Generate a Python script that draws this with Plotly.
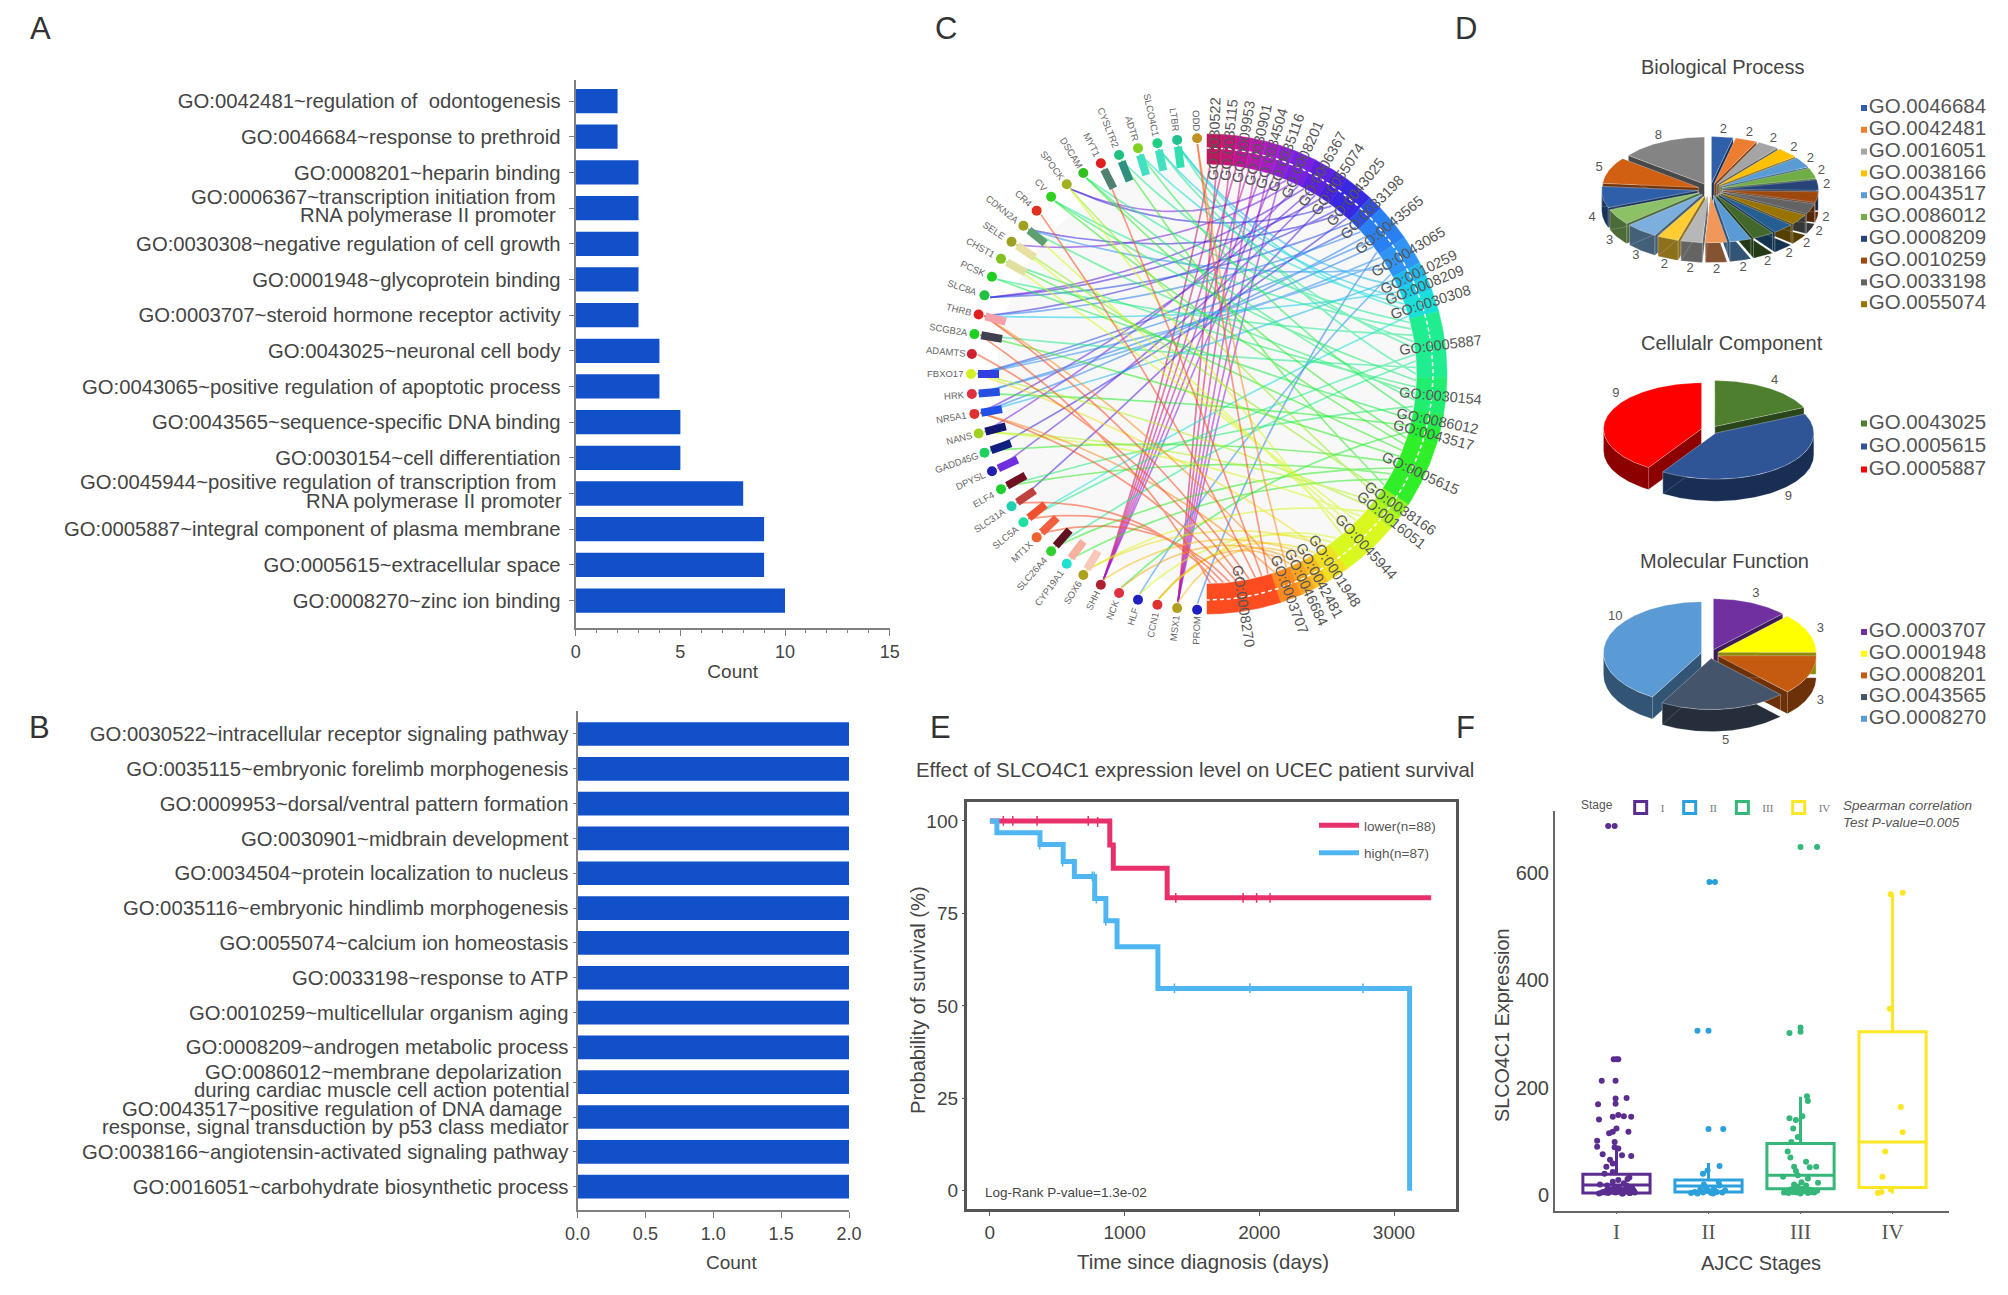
import math
import plotly.graph_objects as go

W, H = 2008, 1295
FONT = "Liberation Sans"
TXT = "#444444"

# ---------- panel A ----------
A_TERMS = ["GO:0042481~regulation of  odontogenesis", "GO:0046684~response to prethroid", "GO:0008201~heparin binding",
           "GO:0006367~transcription initiation from<br>RNA polymerase II promoter", "GO:0030308~negative regulation of cell growth",
           "GO:0001948~glycoprotein binding", "GO:0003707~steroid hormone receptor activity", "GO:0043025~neuronal cell body",
           "GO:0043065~positive regulation of apoptotic process", "GO:0043565~sequence-specific DNA binding",
           "GO:0030154~cell differentiation", "GO:0045944~positive regulation of transcription from<br>RNA polymerase II promoter",
           "GO:0005887~integral component of plasma membrane", "GO:0005615~extracellular space", "GO:0008270~zinc ion binding"]
A_COUNTS = [2, 2, 3, 3, 3, 3, 3, 4, 4, 5, 5, 8, 9, 9, 10]

# ---------- panel B ----------
B_TERMS = ["GO:0030522~intracellular receptor signaling pathway", "GO:0035115~embryonic forelimb morphogenesis",
           "GO:0009953~dorsal/ventral pattern formation", "GO:0030901~midbrain development",
           "GO:0034504~protein localization to nucleus", "GO:0035116~embryonic hindlimb morphogenesis",
           "GO:0055074~calcium ion homeostasis", "GO:0033198~response to ATP", "GO:0010259~multicellular organism aging",
           "GO:0008209~androgen metabolic process", "GO:0086012~membrane depolarization<br>during cardiac muscle cell action potential",
           "GO:0043517~positive regulation of DNA damage<br>response, signal transduction by p53 class mediator",
           "GO:0038166~angiotensin-activated signaling pathway", "GO:0016051~carbohydrate biosynthetic process"]
B_COUNTS = [2] * 14

# ---------- panel C ----------
C_GO = ["GO:0030522", "GO:0035115", "GO:0009953", "GO:0030901", "GO:0034504", "GO:0035116", "GO:0008201", "GO:0006367",
        "GO:0055074", "GO:0043025", "GO:0033198", "GO:0043565", "GO:0043065", "GO:0010259", "GO:0008209", "GO:0030308",
        "GO:0005887", "GO:0030154", "GO:0086012", "GO:0043517", "GO:0005615", "GO:0038166", "GO:0016051", "GO:0045944",
        "GO:0001948", "GO:0042481", "GO:0046684", "GO:0003707", "GO:0008270"]
C_GENES = ["PROM", "MSX1", "CCN1", "HLF", "NCK", "SHH", "SOX6", "CYP19A1", "SLC26A4", "MT1X", "SLC5A", "SLC31A", "ELF4",
           "DPYSL", "GADD45G", "NANS", "NR5A1", "HRK", "FBXO17", "ADAMTS", "SCGB2A", "THRB", "SLC8A", "PCSK", "CHST1",
           "SELE", "CDKN2A", "CR4", "CV", "SPOCK", "DSCAM", "MYT1", "CYSLTR2", "ADTR", "SLCO4C1", "LTBR", "ODD"]
# gene indices linked to each GO term; the list length is the term's count
C_LINKS = [[5, 1], [5, 1], [5, 1], [5, 1], [5, 1], [5, 1],
           [29, 25, 15], [22, 16, 13], [22, 11], [29, 21, 26, 14], [22, 18], [21, 16, 18, 17, 0],
           [17, 18, 26, 3], [16, 35], [21, 34], [33, 35, 10],
           [30, 28, 23, 32, 34, 10, 8, 20, 35], [28, 24, 26, 30, 12], [33, 23], [17, 4],
           [30, 28, 24, 20, 14, 8, 12, 7, 32], [25, 29], [15, 18],
           [6, 15, 24, 25, 26, 29, 2, 3], [6, 18, 2], [5, 1], [4, 2], [36, 21, 16],
           [36, 31, 27, 21, 19, 16, 9, 10, 11, 20]]
C_GO_COLORS = ["#c4145e", "#c81478", "#c01498", "#b818b0", "#a81cc8", "#9020d8", "#7a20e0", "#6020e0", "#4a20e0", "#3828e0",
               "#2a50e8", "#2a80f0", "#3094f4", "#20b8ee", "#18d0e8", "#18e0d8", "#20ec90", "#20ee70", "#20ee50", "#20f030",
               "#30ee28", "#90f020", "#b0f420", "#d8f820", "#f0e020", "#f8c020", "#f8a820", "#fc8c20", "#fc4c20"]
C_DOT_COLORS = ["#2020c0", "#b0a020", "#e03030", "#2020c0", "#e03040", "#b02030", "#b0a020", "#20e0d0", "#30d030", "#f06030",
                "#20e0a0", "#20d0b0", "#20d030", "#2020b0", "#20d060", "#a0d020", "#e03030", "#e03040", "#d0f020", "#d02030",
                "#20d020", "#e02020", "#20c040", "#20d020", "#80c020", "#a0a020", "#a0a020", "#e03020", "#30d020", "#a0b020",
                "#30c020", "#e02020", "#20c080", "#80d020", "#20d080", "#20c090", "#c09020"]
C_STUB_COLORS = {9: "#f06040", 8: "#601020", 7: "#f8b0a0", 6: "#f8c8b8", 10: "#f05030", 11: "#c04040", 12: "#701020",
                 13: "#7030e0", 14: "#102080", 15: "#101870", 16: "#2050e8", 17: "#2850e0", 18: "#3040e0", 20: "#404050",
                 21: "#f8a0a8", 25: "#e8e0a0", 24: "#e0e0a0", 26: "#60a070", 31: "#508070", 32: "#309080", 33: "#40e0c0",
                 34: "#40e0c0", 35: "#30e0b0"}

# ---------- panel D ----------
BP_VALUES = [2] * 16 + [3, 3, 4, 5, 8]
BP_COLORS = ["#2f5fa8", "#ed7d31", "#a5a5a5", "#ffc000", "#5b9bd5", "#70ad47", "#264478", "#9e480e", "#636363", "#997300",
             "#255e91", "#43682b", "#5b9bd5", "#f1975a", "#b7b7b7", "#ffcd33", "#7cafdd", "#8cc168", "#2f5fa8", "#d26012", "#848484"]
BP_LEGEND = ["GO.0046684", "GO.0042481", "GO.0016051", "GO.0038166", "GO.0043517", "GO.0086012", "GO.0008209", "GO.0010259", "GO.0033198", "GO.0055074"]
BP_LEG_COL = ["#2f5fa8", "#ed7d31", "#a5a5a5", "#ffc000", "#5b9bd5", "#70ad47", "#264478", "#9e480e", "#636363", "#997300"]
CC_VALUES = [4, 9, 9]
CC_COLORS = ["#4e7f2f", "#2f5597", "#ff0000"]
CC_LEGEND = ["GO.0043025", "GO.0005615", "GO.0005887"]
MF_VALUES = [3, 3, 3, 5, 10]
MF_COLORS = ["#7030a0", "#ffff00", "#c55a11", "#44546a", "#5b9bd5"]
MF_LEGEND = ["GO.0003707", "GO.0001948", "GO.0008201", "GO.0043565", "GO.0008270"]

# ---------- panel E ----------
KM_LOW_T = [0, 890, 916, 1316, 3276]
KM_LOW_S = [100, 93.5, 87.2, 79.2, 79.2]
KM_HIGH_T = [0, 52, 372, 544, 627, 778, 861, 944, 1247, 3116]
KM_HIGH_S = [100, 96.8, 93.6, 89, 85, 79, 73, 66, 54.7, 0]
CENS_LOW_T = [100, 170, 350, 730, 800, 1380, 1880, 1980, 2080]
CENS_LOW_S = [100, 100, 100, 100, 99.7, 79.2, 79.2, 79.2, 79.2]
CENS_HIGH_T = [370, 540, 760, 775, 790, 860, 1370, 1930, 2770]
CENS_HIGH_S = [93.6, 89, 85, 85, 79, 73, 54.7, 54.8, 54.7]

# ---------- panel F ----------
STAGES = ["I", "II", "III", "IV"]
STAGE_COLORS = ["#5c2d91", "#2aa0dc", "#35b779", "#fde725"]
BOX_Q1 = [4, 6, 12, 14]
BOX_MED = [19, 17, 37, 99]
BOX_Q3 = [39, 28, 96, 304]
BOX_LO = [1, 2, 2, 3]
BOX_HI = [90, 60, 183, 561]
PT_OFF = [
    [-.09, -.02, -.03, 0, .02, -.16, -.01, -.01, .11, -.01, -.2, -.04, .02, .08, .16, -.19, 0, -.04, -.08, .13, -.21, -.21,
     -.02, -.02, .02, -.15, .06, .16, -.07, -.04, -.11, -.04, -.13,
     -.19, -.16, -.14, -.11, -.09, -.07, -.05, -.03, -.01, .01, .03, .05, .07, .09, .11, .13, .15, .17, .19, -.18, -.12, -.06,
     -.04, 0, .02, .04, .06, .08, .1, .12, .14, .16, .02, -.02, .12, .18, .2, -.1, .14, -.08],
    [.01, .07, -.12, 0, 0, .16, .12, -.06, -.01,
     -.19, -.15, -.12, -.09, -.06, -.03, 0, .03, .06, .09, .12, .15, .18, -.05, .05, .11],
    [0, .18, 0, 0, -.12, .07, .08, -.12, -.05, .02, -.08, -.03, -.1, -.14, -.11, .06, -.07, .1, .17, -.05, -.19, -.03, .08, .19,
     -.18, -.15, -.13, -.1, -.08, -.06, -.04, -.02, 0, .02, .04, .06, .08, .1, .12, .15, .18, -.07, -.03, .05, .01],
    [-.02, .11, -.03, .09, .11, -.08, -.11, -.16, -.12, -.02],
]
PT_VAL = [
    [687, 687, 253, 253, 253, 213, 213, 180, 181, 170, 169, 146, 149, 147, 146, 141, 124, 118, 115, 118, 101, 90,
     99, 89, 87, 76, 74, 73, 66, 59, 53, 43, 40,
     3, 5, 6, 8, 4, 10, 7, 12, 5, 9, 15, 6, 3, 11, 18, 8, 4, 13, 7, 20, 5, 10,
     25, 6, 14, 9, 3, 22, 8, 16, 4, 12, 28, 6, 30, 10, 5, 18, 33, 7],
    [583, 583, 306, 306, 123, 123, 54, 40, 46,
     4, 6, 3, 10, 5, 14, 8, 4, 12, 6, 18, 5, 9, 20, 3, 25],
    [648, 648, 312, 304, 302, 184, 175, 143, 140, 147, 124, 108, 99, 81, 70, 62, 53, 52, 53, 45, 34, 37, 31, 23,
     5, 8, 4, 11, 6, 14, 5, 9, 3, 12, 7, 18, 4, 10, 6, 5, 8, 20, 16, 12, 24],
    [560, 563, 347, 164, 117, 81, 34, 4, 6, 11],
]

# ---------- helpers ----------
fig = go.Figure()
anns = []


def dom(x0, x1, y0, y1):
    return dict(x=[x0 / W, x1 / W], y=[1 - y1 / H, 1 - y0 / H])


def note(px, py, text, size=20, color=TXT, anchor="center", family=FONT, angle=0):
    anns.append(dict(x=px / W, y=1 - py / H, xref="paper", yref="paper", text=text, showarrow=False, xanchor=anchor,
                     yanchor="middle", textangle=angle, font=dict(size=size, color=color, family=family)))


def shade(col, f):
    r, g, b = int(col[1:3], 16), int(col[3:5], 16), int(col[5:7], 16)
    return "#%02x%02x%02x" % (int(r * f), int(g * f), int(b * f))


BAR = "#1150c8"
AX = "#808080"
LABEL_SIZE = 20.3


def hbar(terms, counts, xa, ya, standoff_lab, ticklen, rng, xmax, dtick, minor):
    fig.add_trace(go.Bar(y=terms, x=counts, orientation="h", marker=dict(color=BAR, line_width=0), width=0.68,
                         xaxis=xa, yaxis=ya, showlegend=False, hoverinfo="skip"))
    ticks = [t if "<br>" not in t else " " for t in terms]
    axy = dict(range=rng, tickmode="array", tickvals=terms, ticktext=ticks, showgrid=False, zeroline=False, showline=True,
               linecolor=AX, linewidth=2, ticks="outside", ticklen=ticklen, tickcolor=AX, type="category",
               tickfont=dict(size=LABEL_SIZE, color=TXT, family=FONT), ticklabelstandoff=standoff_lab)
    axx = dict(range=[0, xmax], dtick=dtick, showgrid=False, zeroline=False, showline=True, linecolor=AX, linewidth=2,
               ticks="outside", ticklen=6, tickcolor=AX, tickfont=dict(size=18, color=TXT, family=FONT))
    if minor:
        axx["minor"] = dict(dtick=1, ticks="outside", ticklen=3, tickcolor=AX)
        axx["title"] = dict(text="Count", font=dict(size=19, color=TXT, family=FONT), standoff=4)
    else:
        axx["tickformat"] = ".1f"
    return axx, axy


# A
xa_, ya_ = hbar(A_TERMS, A_COUNTS, "x", "y", 4, 5, [14.77, -0.59], 15, 5, True)
fig.update_layout(xaxis=dict(domain=dom(575.7, 889.7, 80, 628)["x"], anchor="y", **xa_),
                  yaxis=dict(domain=dom(575.7, 889.7, 80, 628)["y"], anchor="x", **ya_))
# B
xb_, yb_ = hbar(B_TERMS, B_COUNTS, "x2", "y2", 0, 3, [13.67, -0.66], 2, 0.5, False)
fig.update_layout(xaxis2=dict(domain=dom(577.5, 849, 711, 1210)["x"], anchor="y2", **xb_),
                  yaxis2=dict(domain=dom(577.5, 849, 711, 1210)["y"], anchor="x2", **yb_))
note(731, 1262, "Count", 19)


def two_line(term, xref, yref, right, up, down, right2=None):
    a, b = term.split("<br>")
    anns.append(dict(x=0, y=term, xref=xref, yref=yref, text=a, showarrow=False, xanchor="right", xshift=-right, yshift=up,
                     font=dict(size=LABEL_SIZE, color=TXT, family=FONT)))
    anns.append(dict(x=0, y=term, xref=xref, yref=yref, text=b, showarrow=False, xanchor="right",
                     xshift=-(right2 if right2 is not None else right), yshift=down, font=dict(size=LABEL_SIZE, color=TXT, family=FONT)))


two_line(A_TERMS[3], "x", "y", 18, 11.5, -6.5)
two_line(A_TERMS[11], "x", "y", 18, 12, -7, 12)
two_line(B_TERMS[10], "x2", "y2", 14, 10, -8, 7)
two_line(B_TERMS[11], "x2", "y2", 14, 8, -10, 7)

# C : chord diagram
CX, CY = 1207, 374
R_OUT, R_IN, R_GENE = 240, 210, 236


def polar(r, deg):
    t = math.radians(deg)
    return r * math.sin(t), r * math.cos(t)


box = (930, 1500, 90, 660)
hidden = dict(visible=False, showgrid=False, zeroline=False)
fig.update_layout(xaxis3=dict(domain=dom(*box)["x"], range=[box[0] - CX, box[1] - CX], anchor="y3", **hidden),
                  yaxis3=dict(domain=dom(*box)["y"], range=[CY - box[3], CY - box[2]], anchor="x3", **hidden))
circ = [polar(R_IN, a) for a in range(0, 361, 3)]
fig.add_trace(go.Scatter(x=[p[0] for p in circ], y=[p[1] for p in circ], mode="lines", fill="toself", fillcolor="#f8f8f8",
                         line=dict(width=0, color="#f8f8f8"), xaxis="x3", yaxis="y3", showlegend=False, hoverinfo="skip"))
gene_deg = [182.4 + i * (175.2 / (len(C_GENES) - 1)) for i in range(len(C_GENES))]
total = sum(len(l) for l in C_LINKS)
cum = 0
label_deg = []
for links, col in zip(C_LINKS, C_GO_COLORS):
    xs, ys = [], []
    for j, g in enumerate(links):
        a = (cum + j + 0.5) / total * 180
        p0 = polar(R_IN - 1, a)
        p1 = polar(R_GENE - 6, gene_deg[g])
        c = ((p0[0] + p1[0]) * 0.36, (p0[1] + p1[1]) * 0.36)
        for k in range(21):
            t = k / 20
            xs.append((1 - t) ** 2 * p0[0] + 2 * t * (1 - t) * c[0] + t ** 2 * p1[0])
            ys.append((1 - t) ** 2 * p0[1] + 2 * t * (1 - t) * c[1] + t ** 2 * p1[1])
        xs.append(None)
        ys.append(None)
    fig.add_trace(go.Scatter(x=xs, y=ys, mode="lines", line=dict(color=col, width=1.7), opacity=0.55, xaxis="x3", yaxis="y3",
                             showlegend=False, hoverinfo="skip"))
    cum += len(links)
cum = 0
for links, col, name in zip(C_LINKS, C_GO_COLORS, C_GO):
    a0 = cum / total * 180
    a1 = (cum + len(links)) / total * 180
    n = max(2, int((a1 - a0) * 2))
    arc = [a0 + (a1 - a0) * i / n for i in range(n + 1)]
    pts = [polar(R_OUT, a) for a in arc] + [polar(R_IN, a) for a in reversed(arc)]
    pts.append(pts[0])
    fig.add_trace(go.Scatter(x=[p[0] for p in pts], y=[p[1] for p in pts], mode="lines", fill="toself", fillcolor=col,
                             line=dict(width=0.5, color=col), xaxis="x3", yaxis="y3", showlegend=False, hoverinfo="skip"))
    label_deg.append((a0 + a1) / 2)
    cum += len(links)
mid = [polar(226, a) for a in range(0, 181, 1)]
fig.add_trace(go.Scatter(x=[p[0] for p in mid], y=[p[1] for p in mid], mode="lines", line=dict(color="white", width=1.5, dash="4px,3px"),
                         xaxis="x3", yaxis="y3", showlegend=False, hoverinfo="skip"))
for g, col in C_STUB_COLORS.items():
    p0, p1 = polar(229, gene_deg[g]), polar(208, gene_deg[g])
    fig.add_trace(go.Scatter(x=[p0[0], p1[0]], y=[p0[1], p1[1]], mode="lines", line=dict(color=col, width=8), xaxis="x3", yaxis="y3",
                             showlegend=False, hoverinfo="skip"))
gp = [polar(R_GENE, a) for a in gene_deg]
fig.add_trace(go.Scatter(x=[p[0] for p in gp], y=[p[1] for p in gp], mode="markers", marker=dict(size=10, color=C_DOT_COLORS),
                         xaxis="x3", yaxis="y3", showlegend=False, hoverinfo="skip"))
for name, a in zip(C_GO, label_deg):
    p = polar(235, a)
    anns.append(dict(x=p[0], y=p[1], xref="x3", yref="y3", text=name, showarrow=False, textangle=a - 90, xanchor="center", yanchor="middle",
                     font=dict(size=14.5, color="#555555", family=FONT)))
for name, a in zip(C_GENES, gene_deg):
    p = polar(R_GENE + 9 + len(name) * 2.9, a)
    anns.append(dict(x=p[0], y=p[1], xref="x3", yref="y3", text=name, showarrow=False, textangle=a - 270, xanchor="center", yanchor="middle",
                     font=dict(size=9.5, color="#666666", family=FONT)))


# D : tilted pies drawn from their values
def pie3d(values, colors, xa, ya, rx, ry, depth, explode, left_fx, left_dy):
    tot = sum(values)
    items, a = [], 0.0
    for v, c in zip(values, colors):
        a1 = a + v / tot * 360
        items.append((a, a1, c, v))
        a = a1
    lab_x, lab_y, lab_t = [], [], []
    for a0, a1, c, v in sorted(items, key=lambda s: -math.cos(math.radians((s[0] + s[1]) / 2))):
        m = math.radians((a0 + a1) / 2)
        ox, oy = explode * rx * math.sin(m), explode * ry * math.cos(m)

        def pt(deg):
            t = math.radians(deg)
            return ox + rx * math.sin(t), oy + ry * math.cos(t)

        wx, wy = [], []
        for deg in (a0, a1):
            e = pt(deg)
            wx += [ox, e[0], e[0], ox, ox, None]
            wy += [oy, e[1], e[1] - depth, oy - depth, oy, None]
        lo, hi = max(a0, 90), min(a1, 270)
        if hi > lo:
            n = max(2, int(hi - lo))
            arc = [pt(lo + (hi - lo) * i / n) for i in range(n + 1)]
            wx += [p[0] for p in arc] + [p[0] for p in reversed(arc)] + [arc[0][0]]
            wy += [p[1] for p in arc] + [p[1] - depth for p in reversed(arc)] + [arc[0][1]]
        wall = shade(c, 0.55)
        fig.add_trace(go.Scatter(x=wx, y=wy, mode="lines", fill="toself", fillcolor=wall, line=dict(color="rgba(255,255,255,0.25)", width=0.7),
                                 xaxis=xa, yaxis=ya, showlegend=False, hoverinfo="skip"))
        n = max(2, int(a1 - a0))
        arc = [pt(a0 + (a1 - a0) * i / n) for i in range(n + 1)]
        fig.add_trace(go.Scatter(x=[ox] + [p[0] for p in arc] + [ox], y=[oy] + [p[1] for p in arc] + [oy], mode="lines", fill="toself",
                                 fillcolor=c, line=dict(color="rgba(255,255,255,0.35)", width=0.7), xaxis=xa, yaxis=ya, showlegend=False, hoverinfo="skip"))
        sm, cm = math.sin(m), math.cos(m)
        fx = left_fx if sm < -0.9 else 1.22
        lab_x.append(fx * rx * sm)
        lab_y.append(1.28 * ry * cm - (depth if cm < 0 else 0) + (left_dy if sm < -0.9 else 0))
        lab_t.append(str(v))
    fig.add_trace(go.Scatter(x=lab_x, y=lab_y, mode="text", text=lab_t, textfont=dict(size=13, color="#555555", family=FONT),
                             xaxis=xa, yaxis=ya, showlegend=False, hoverinfo="skip", cliponaxis=False))


def side_legend(names, cols, xa, ya, cx, cy, first, step):
    fig.add_trace(go.Scatter(x=[1864 - cx] * len(names), y=[cy - (first + i * step) for i in range(len(names))], mode="markers+text",
                             marker=dict(size=6, color=cols, symbol="square"), text=names, textposition="middle right",
                             textfont=dict(size=20.5, color="#555555", family=FONT), xaxis=xa, yaxis=ya, showlegend=False,
                             hoverinfo="skip", cliponaxis=False))


def pie_axes(n, cx, cy, top, bot):
    x0, x1 = 1560, 2008
    return {f"xaxis{n}": dict(domain=dom(x0, x1, top, bot)["x"], range=[x0 - cx, x1 - cx], anchor=f"y{n}", **hidden),
            f"yaxis{n}": dict(domain=dom(x0, x1, top, bot)["y"], range=[cy - bot, cy - top], anchor=f"x{n}", **hidden)}


fig.update_layout(**pie_axes(4, 1710, 189.6, 90, 330), **pie_axes(5, 1710, 430, 340, 540), **pie_axes(6, 1710, 654, 570, 760))
pie3d(BP_VALUES, BP_COLORS, "x4", "y4", 96, 47, 20, 0.13, 1.24, 0)
side_legend(BP_LEGEND, BP_LEG_COL, "x4", "y4", 1710, 189.6, 108, 21.8)
pie3d(CC_VALUES, CC_COLORS, "x5", "y5", 98, 46, 22, 0.09, 1.0, 20)
side_legend(CC_LEGEND, CC_COLORS, "x5", "y5", 1710, 430, 423.5, 23)
pie3d(MF_VALUES, MF_COLORS, "x6", "y6", 98, 51, 22, 0.09, 1.0, 20)
side_legend(MF_LEGEND, MF_COLORS, "x6", "y6", 1710, 654, 632, 21.7)
note(1722, 67, "Biological Process", 20, "#444444")
note(1732, 343, "Cellulalr Component", 20, "#444444")
note(1724, 561, "Molecular Function", 20, "#444444")

# E
LOW, HIGH = "#e8306a", "#4fb6f2"
fig.add_trace(go.Scatter(x=KM_LOW_T, y=KM_LOW_S, mode="lines", line=dict(color=LOW, width=5, shape="hv"), name="lower(n=88)",
                         xaxis="x7", yaxis="y7", legend="legend", legendgroup="lo", hoverinfo="skip"))
fig.add_trace(go.Scatter(x=KM_HIGH_T, y=KM_HIGH_S, mode="lines", line=dict(color=HIGH, width=5, shape="hv"), name="high(n=87)",
                         xaxis="x7", yaxis="y7", legend="legend", legendgroup="hi", hoverinfo="skip"))
fig.add_trace(go.Scatter(x=CENS_LOW_T, y=CENS_LOW_S, mode="markers", marker=dict(symbol="line-ns-open", size=7, color=LOW, line=dict(width=1.5, color=LOW)),
                         xaxis="x7", yaxis="y7", showlegend=False, hoverinfo="skip"))
fig.add_trace(go.Scatter(x=CENS_HIGH_T, y=CENS_HIGH_S, mode="markers", marker=dict(symbol="line-ns-open", size=7, color=HIGH, line=dict(width=1.5, color=HIGH)),
                         xaxis="x7", yaxis="y7", showlegend=False, hoverinfo="skip"))
d = dom(966.6, 1455.7, 802.4, 1209.3)
axE = dict(showgrid=False, zeroline=False, showline=True, mirror=True, linecolor="#555555", linewidth=2.5, ticks="outside", tickcolor="#555555",
           tickfont=dict(size=19, color=TXT, family=FONT))
fig.update_layout(
    xaxis7=dict(domain=d["x"], range=[-173, 3458], tickvals=[0, 1000, 2000, 3000], anchor="y7", ticklen=4, **axE),
    yaxis7=dict(domain=d["y"], range=[-5, 105], tickvals=[0, 25, 50, 75, 100], anchor="x7", ticklen=2, **axE))
note(1195, 770, "Effect of SLCO4C1 expression level on UCEC patient survival", 20.4)
note(983, 1192, "Log-Rank P-value=1.3e-02", 13.5, TXT, "left")
note(1203, 1262, "Time since diagnosis (days)", 20.4)
note(918, 1000, "Probability of survival (%)", 20.2, TXT, angle=-90)

# F
for i, st in enumerate(STAGES):
    c = STAGE_COLORS[i]
    fig.add_trace(go.Scatter(x=[i + o for o in PT_OFF[i]], y=PT_VAL[i], mode="markers", marker=dict(size=6, color=c),
                             xaxis="x8", yaxis="y8", showlegend=False, hoverinfo="skip"))
    fig.add_trace(go.Box(x=[i], q1=[BOX_Q1[i]], median=[BOX_MED[i]], q3=[BOX_Q3[i]], lowerfence=[BOX_LO[i]], upperfence=[BOX_HI[i]],
                         width=0.73, whiskerwidth=0, line=dict(color=c, width=3), fillcolor="rgba(255,255,255,0)", name=st,
                         xaxis="x8", yaxis="y8", legend="legend2", hoverinfo="skip"))
d = dom(1555, 1948.7, 810.7, 1210.7)
fig.update_layout(
    xaxis8=dict(domain=d["x"], range=[-0.668, 3.61], tickvals=[0, 1, 2, 3], ticktext=STAGES, anchor="y8", showgrid=False, zeroline=False, showline=True,
                linecolor="#666666", linewidth=2, ticks="outside", ticklen=1, tickcolor="#666666", tickfont=dict(size=21, color="#555555", family="Liberation Serif")),
    yaxis8=dict(domain=d["y"], range=[-29, 715.6], tickvals=[0, 200, 400, 600], anchor="x8", showgrid=False, zeroline=False, showline=True,
                linecolor="#666666", linewidth=2, ticks="", tickfont=dict(size=20, color=TXT, family=FONT)))
note(1761, 1263, "AJCC Stages", 20)
note(1502, 1025, "SLCO4C1 Expression", 19.8, TXT, angle=-90)
note(1841, 806, "<i>Spearman correlation</i>", 13.5, "#555555", "left")
note(1841, 822, "<i>Test P-value=0.005</i>", 13.5, "#555555", "left")

# panel letters
for letter, px, py in [("A", 40, 28), ("B", 39, 727), ("C", 946, 28), ("D", 1466, 28), ("E", 940, 727), ("F", 1465, 727)]:
    note(px, py, letter, 31, "#333333")

fig.update_layout(
    width=W, height=H, autosize=False, margin=dict(l=0, r=0, t=0, b=0, autoexpand=False), paper_bgcolor="white", plot_bgcolor="white",
    annotations=anns, barmode="overlay", boxmode="overlay", hovermode=False,
    legend=dict(x=1314 / W, y=1 - 810 / H, xanchor="left", yanchor="top", bgcolor="rgba(0,0,0,0)", font=dict(size=13.5, color="#555555", family=FONT),
                itemwidth=40, tracegroupgap=7),
    legend2=dict(x=1579 / W, y=1 - 793 / H, xanchor="left", yanchor="top", orientation="h", bgcolor="rgba(0,0,0,0)",
                 title=dict(text="Stage", font=dict(size=12, color="#555555", family=FONT)),
                 font=dict(size=11, color="#777777", family="Liberation Serif"), itemwidth=30),
)
fig.write_html("out.html", config={"displayModeBar": False}, post_script="document.body.style.margin='0';")
